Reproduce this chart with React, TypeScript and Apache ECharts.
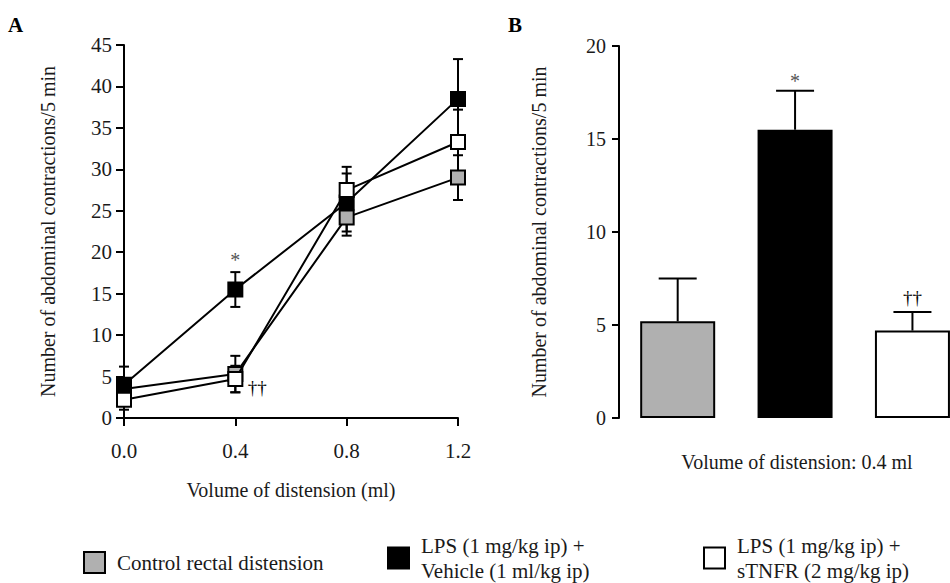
import React, { useEffect, useRef } from "react";
import * as echarts from "echarts";

// ---- Panel A data ----
const volumes = [0.0, 0.4, 0.8, 1.2];
const controlMean = [3.5, 5.3, 24.2, 29.0];
const controlErr = [1.0, 2.2, 2.2, 2.7];
const vehicleMean = [4.0, 15.5, 26.0, 38.5];
const vehicleErr = [2.2, 2.1, 3.5, 4.8];
const stnfrMean = [2.2, 4.7, 27.5, 33.3];
const stnfrErr = [1.2, 1.6, 2.8, 3.9];

// ---- Panel B data (one bar per group, index 0..2) ----
const barCategories = ["Control", "LPS + Vehicle", "LPS + sTNFR"];
const barMeans = [5.2, 15.5, 4.7];
const barErr = [2.3, 2.1, 1.0];

// ---- Labels ----
const seriesNames = [
  "Control rectal distension",
  "LPS (1 mg/kg ip) +\nVehicle (1 ml/kg ip)",
  "LPS (1 mg/kg ip) +\nsTNFR (2 mg/kg ip)",
];
const yTitle = "Number of abdominal contractions/5 min";
const xTitleA = "Volume of distension (ml)";
const xTitleB = "Volume of distension: 0.4 ml";
const annotationsA = [
  { x: 0.4, y: 19.1, text: "*", dx: 0 },
  { x: 0.4, y: 3.7, text: "††", dx: 22 },
];
const annotationsB = [
  { x: 1, y: 18.1, text: "*" },
  { x: 2, y: 6.5, text: "††" },
];

const FONT = "'Liberation Serif', 'Times New Roman', serif";
const GREY = "#b0b0b0";
const TXT = "#1a1a1a";

function errData(means: number[], errs: number[], xs: number[]) {
  return means.map((m, i) => [xs[i], m - errs[i], m + errs[i]]);
}

function makeErrRender(capHalf: number, upperOnly: boolean) {
  return (params: any, api: any) => {
    const x = api.value(0);
    const lo = api.value(1);
    const hi = api.value(2);
    const pHi = api.coord([x, hi]);
    const pLo = api.coord([x, upperOnly ? (lo + hi) / 2 : lo]);
    const st = { stroke: "#000", lineWidth: 2 };
    const children: any[] = [
      { type: "line", shape: { x1: pHi[0], y1: pHi[1], x2: pLo[0], y2: pLo[1] }, style: st },
      { type: "line", shape: { x1: pHi[0] - capHalf, y1: pHi[1], x2: pHi[0] + capHalf, y2: pHi[1] }, style: st },
    ];
    if (!upperOnly) {
      children.push({
        type: "line",
        shape: { x1: pLo[0] - capHalf, y1: pLo[1], x2: pLo[0] + capHalf, y2: pLo[1] },
        style: st,
      });
    }
    return { type: "group", children };
  };
}

export default function App() {
  const ref = useRef<HTMLDivElement>(null);
  useEffect(() => {
    if (!ref.current) return;
    const chart = echarts.init(ref.current, undefined, { renderer: "svg" });
    const colors = [GREY, "#000000", "#ffffff"];
    const means = [controlMean, vehicleMean, stnfrMean];
    const errs = [controlErr, vehicleErr, stnfrErr];
    const drawOrder = [0, 2, 1];
    const barIdx = barCategories.map((_, i) => i);

    const axisLineStyle = { color: "#000", width: 2 };
    const tickLabel = { fontFamily: FONT, fontSize: 21, color: TXT };
    const nameStyle = { fontFamily: FONT, fontSize: 20, color: TXT };

    const series: any[] = [];
    drawOrder.forEach((k) => {
      series.push({
        type: "custom",
        xAxisIndex: 0,
        yAxisIndex: 0,
        z: 1,
        silent: true,
        renderItem: makeErrRender(5, false),
        data: errData(means[k], errs[k], volumes),
      });
    });
    drawOrder.forEach((k) => {
      series.push({
        type: "line",
        name: seriesNames[k],
        xAxisIndex: 0,
        yAxisIndex: 0,
        z: 3 + k,
        data: volumes.map((v, i) => [v, means[k][i]]),
        symbol: "rect",
        symbolSize: 14,
        showSymbol: true,
        lineStyle: { color: "#000", width: 2 },
        itemStyle: { color: colors[k], borderColor: "#000", borderWidth: 2 },
      });
    });
    series.push({
      type: "custom",
      xAxisIndex: 0,
      yAxisIndex: 0,
      z: 10,
      silent: true,
      data: annotationsA.map((a) => [a.x, a.y]),
      renderItem: (params: any, api: any) => {
        const a = annotationsA[params.dataIndex];
        const p = api.coord([api.value(0), api.value(1)]);
        return {
          type: "text",
          x: p[0] + a.dx,
          y: p[1],
          style: {
            text: a.text,
            fontFamily: FONT,
            fontSize: a.text === "*" ? 20 : 19,
            fill: a.text === "*" ? "#555" : "#000",
            align: "center",
            verticalAlign: "middle",
          },
        };
      },
    });
    // Panel B
    series.push({
      type: "bar",
      xAxisIndex: 1,
      yAxisIndex: 1,
      barWidth: 75,
      z: 2,
      data: barMeans.map((v, i) => ({
        value: [barIdx[i], v],
        itemStyle: { color: colors[i], borderColor: "#000", borderWidth: 2 },
      })),
    });
    series.push({
      type: "custom",
      xAxisIndex: 1,
      yAxisIndex: 1,
      z: 1,
      silent: true,
      renderItem: makeErrRender(19, true),
      data: errData(barMeans, barErr, barIdx),
    });
    series.push({
      type: "custom",
      xAxisIndex: 1,
      yAxisIndex: 1,
      z: 10,
      silent: true,
      data: annotationsB.map((a) => [a.x, a.y]),
      renderItem: (params: any, api: any) => {
        const a = annotationsB[params.dataIndex];
        const p = api.coord([api.value(0), api.value(1)]);
        return {
          type: "text",
          x: p[0],
          y: p[1],
          style: {
            text: a.text,
            fontFamily: FONT,
            fontSize: a.text === "*" ? 20 : 19,
            fill: a.text === "*" ? "#555" : "#000",
            align: "center",
            verticalAlign: "middle",
          },
        };
      },
    });

    const legendPos = [
      { left: 78, top: 545 },
      { left: 382, top: 528 },
      { left: 698, top: 528 },
    ];

    chart.setOption({
      animation: false,
      backgroundColor: "#ffffff",
      grid: [
        { left: 124, top: 45, width: 334, height: 373 },
        { left: 619, top: 46, right: 0, height: 372 },
      ],
      xAxis: [
        {
          type: "value",
          gridIndex: 0,
          min: 0,
          max: 1.2,
          interval: 0.4,
          axisLine: { show: true, onZero: false, lineStyle: axisLineStyle },
          axisTick: { show: true, length: 8, lineStyle: axisLineStyle },
          axisLabel: { ...tickLabel, margin: 22, formatter: (v: number) => v.toFixed(1) },
          splitLine: { show: false },
          name: xTitleA,
          nameLocation: "middle",
          nameGap: 62,
          nameTextStyle: nameStyle,
        },
        {
          type: "value",
          gridIndex: 1,
          min: -0.5,
          max: 2.32,
          axisLine: { show: false, onZero: false },
          axisTick: { show: false },
          axisLabel: { show: false },
          splitLine: { show: false },
          name: xTitleB,
          nameLocation: "middle",
          nameGap: 34,
          nameTextStyle: { ...nameStyle, padding: [0, 0, 0, 25] },
        },
      ],
      yAxis: [
        {
          type: "value",
          gridIndex: 0,
          min: 0,
          max: 45,
          interval: 5,
          axisLine: { show: true, onZero: false, lineStyle: axisLineStyle },
          axisTick: { show: true, length: 8, lineStyle: axisLineStyle },
          axisLabel: { ...tickLabel, margin: 12 },
          splitLine: { show: false },
          name: yTitle,
          nameLocation: "middle",
          nameGap: 66,
          nameTextStyle: nameStyle,
        },
        {
          type: "value",
          gridIndex: 1,
          min: 0,
          max: 20,
          interval: 5,
          axisLine: { show: true, onZero: false, lineStyle: axisLineStyle },
          axisTick: { show: true, length: 7, lineStyle: axisLineStyle },
          axisLabel: { ...tickLabel, fontSize: 20, margin: 13 },
          splitLine: { show: false },
          name: yTitle,
          nameLocation: "middle",
          nameGap: 70,
          nameTextStyle: nameStyle,
        },
      ],
      legend: seriesNames.map((n, i) => ({
        left: legendPos[i].left,
        top: legendPos[i].top,
        orient: "horizontal",
        itemWidth: 21,
        itemHeight: 21,
        selectedMode: false,
        icon: "rect",
        data: [
          {
            name: n,
            icon: "rect",
            itemStyle: { color: colors[i], borderColor: "#000", borderWidth: 2 },
          },
        ],
        textStyle: {
          fontFamily: FONT,
          fontSize: 21,
          lineHeight: 25,
          color: TXT,
          padding: [0, 0, 0, 7],
        },
      })),
      graphic: [
        {
          type: "text",
          left: 8,
          top: 14,
          style: { text: "A", fontFamily: FONT, fontWeight: "bold", fontSize: 21, fill: "#000" },
        },
        {
          type: "text",
          left: 508,
          top: 14,
          style: { text: "B", fontFamily: FONT, fontWeight: "bold", fontSize: 21, fill: "#000" },
        },
      ],
      series,
    });
    return () => chart.dispose();
  }, []);
  return (
    <div
      ref={ref}
      style={{ position: "fixed", left: 0, top: 0, width: 950, height: 583, background: "#fff" }}
    />
  );
}
